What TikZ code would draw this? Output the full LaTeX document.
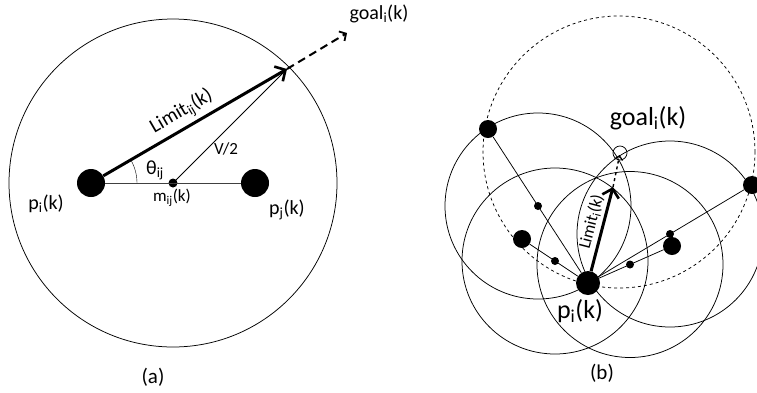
\documentclass[tikz,border=0pt]{standalone}
\usepackage{fontspec}
\setmainfont{Carlito}
\usetikzlibrary{arrows.meta, calc}

\tikzset{
  robot/.style={circle, fill=black, inner sep=0pt, minimum size=#1},
  midpt/.style={circle, fill=black, inner sep=0pt, minimum size=#1},
  thinline/.style={line width=0.75pt},
  limitarrow/.style={line width=3pt, -{Straight Barb[length=8pt, width=17pt, line width=2.6pt]}},
  goalarrow/.style={line width=2pt, dash pattern=on 8pt off 5pt,
    -{Straight Barb[length=5pt, width=11pt, line width=1.8pt]}},
  lbl/.style={inner sep=1pt, font=\fontsize{#1}{#1}\selectfont},
}

\begin{document}
\begin{tikzpicture}[x=1pt, y=-1pt]
  \useasboundingbox (0,0) rectangle (757,392);
  % ---------- (a) ----------
  \begin{scope}
    \node[robot=28pt] (pi) at (91,183) {};
    \node[robot=28pt] (pj) at (255,183) {};
    \node[midpt=9pt] (m) at ($(pi)!0.5!(pj)$) {};
    \coordinate (lim) at (287,69);
    \coordinate (ga) at (347,33);
    \draw[thinline] (m.center) circle[radius=164pt];
    \draw[thinline, black!75] (pi) -- (pj);
    \draw[thinline] (m.center) -- (lim);
    \draw (pi.center) ++(46pt,0) arc[start angle=0, end angle=30, radius=46pt];
    \draw[limitarrow] (pi) -- node[lbl=20, sloped, above=3pt, pos=0.47] {Limit\textsubscript{ij}(k)} (lim);
    \draw[goalarrow] (lim) -- (ga);
    \node[lbl=20] (thl) at (155,170) {θ\textsubscript{ij}};
    \node[lbl=17] (vl) at (226,149) {V/2};
    \node[lbl=17] (ml) at (172,198) {m\textsubscript{ij}(k)};
    \node[lbl=20] (pil) at (46,204) {p\textsubscript{i}(k)};
    \node[lbl=20] (pjl) at (287,210) {p\textsubscript{j}(k)};
    \node[lbl=20] (gal) at (379,14) {goal\textsubscript{i}(k)};
    \node[lbl=21] (capa) at (153,377) {(a)};
  \end{scope}
  % ---------- (b) ----------
  \begin{scope}
    \node[robot=24pt] (pib) at (588,283) {};
    \node[robot=18pt] (n1) at (488,129) {};
    \node[robot=18pt] (n2) at (522,239) {};
    \node[robot=18pt] (n3) at (752,185) {};
    \node[robot=18pt] (n4) at (672,246) {};
    \node[circle, draw, thinline, inner sep=0pt, minimum size=14pt] (goalb) at (620,153) {};
    \coordinate (limb) at (613,187);
    \draw[thinline, dashed] (619,152) circle[radius=136pt];
    \foreach \n in {1,...,4} {
      \node[midpt=8pt] (m\n) at ($(pib)!0.5!(n\n)$) {};
      \draw[thinline] (pib) -- (n\n);
      \draw[thinline] (m\n.center) circle[radius=93pt];
    }
    \draw[limitarrow] (pib) -- node[lbl=17, sloped, above=2pt, pos=0.55] {Limit\textsubscript{i}(k)} (limb);
    \draw[line width=1.4pt, dashed, -{Straight Barb[length=4pt, width=8pt, line width=1.2pt]},
      shorten >=2pt] (limb) -- (goalb.center);
    \node[lbl=26] (gbl) at (648,118) {goal\textsubscript{i}(k)};
    \node[lbl=26] (pibl) at (580,311) {p\textsubscript{i}(k)};
    \node[lbl=21] (capb) at (602,373) {(b)};
  \end{scope}
\end{tikzpicture}
\end{document}
